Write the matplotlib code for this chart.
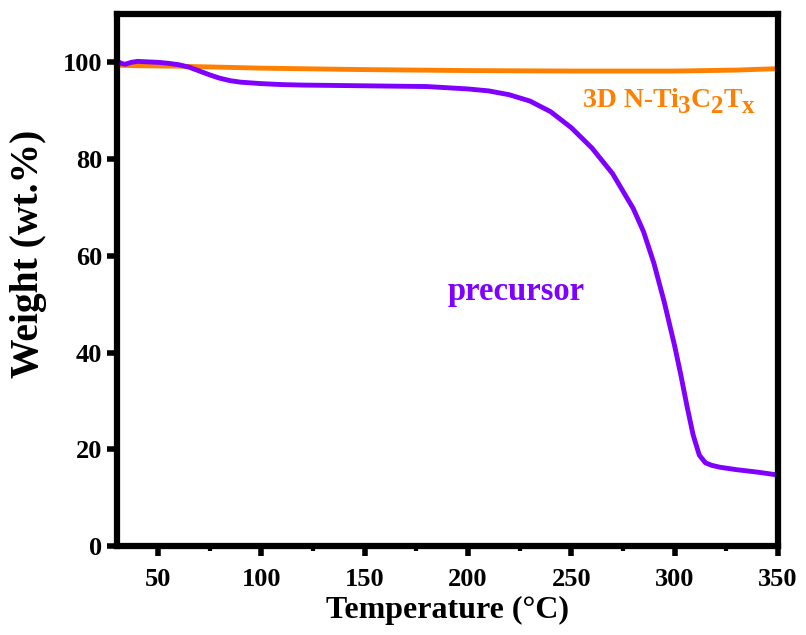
import matplotlib
matplotlib.use("Agg")
import matplotlib.pyplot as plt
from matplotlib.ticker import MultipleLocator

plt.rcParams['font.family'] = ['Liberation Serif', 'DejaVu Serif']
plt.rcParams['font.weight'] = 'bold'

# precursor TGA curve
precursor_temp = [30, 32, 34, 37, 40, 45, 50, 55, 60, 65, 70, 75, 80, 85, 90, 100, 110, 120,
                  140, 160, 180, 200, 210, 220, 230, 240, 250, 260, 270, 280, 285, 290, 295,
                  300, 303, 306, 309, 312, 315, 318, 322, 330, 340, 350]
precursor_weight = [100.3, 99.8, 99.6, 100.0, 100.2, 100.1, 100.0, 99.8, 99.5, 99.0, 98.2, 97.4,
                    96.7, 96.2, 95.9, 95.6, 95.4, 95.3, 95.2, 95.1, 95.0, 94.5, 94.1, 93.3,
                    92.0, 89.8, 86.5, 82.3, 77.0, 69.8, 65.0, 58.5, 50.5, 41.5, 35.5, 29.0,
                    23.0, 18.8, 17.2, 16.7, 16.3, 15.8, 15.3, 14.7]

# 3D N-Ti3C2Tx TGA curve
ntc_temp = [30, 40, 60, 80, 100, 150, 200, 250, 300, 330, 350]
ntc_weight = [99.4, 99.3, 99.2, 99.0, 98.8, 98.5, 98.3, 98.2, 98.2, 98.4, 98.7]

# label pieces: (text, is_subscript)
ntc_label = [('3D N-Ti', False), ('3', True), ('C', False), ('2', True), ('T', False), ('x', True)]

fig = plt.figure(figsize=(8.06, 6.35), dpi=100)
ax = fig.add_axes([0.145, 0.140, 0.820, 0.838])

ax.plot(ntc_temp, ntc_weight, color='#ff8000', lw=3.5)
ax.plot(precursor_temp, precursor_weight, color='#8000ff', lw=3.5)

ax.set_xlim(30, 350)
ax.set_ylim(0, 110)


def piecewise_label(ax, x, y, parts, color, size):
    # draw text piece by piece so the subscripts stay large, like the original
    renderer = fig.canvas.get_renderer()
    dx = 0.0
    for txt, sub in parts:
        fs = size * 0.9 if sub else size
        dy = -4 if sub else 0
        t = ax.annotate(txt, xy=(x, y), xycoords='data', xytext=(dx, dy),
                        textcoords='offset points', color=color, fontsize=fs,
                        fontweight='bold', va='baseline', ha='left')
        w = t.get_window_extent(renderer).width
        dx += w * 72.0 / fig.dpi


piecewise_label(ax, 255.5, 90.7, ntc_label, '#ff8000', 20)
ax.text(190, 50.9, 'precursor', color='#8000ff', fontsize=23.5, fontweight='bold')

ax.xaxis.set_major_locator(MultipleLocator(50))
ax.xaxis.set_minor_locator(MultipleLocator(25))
ax.yaxis.set_major_locator(MultipleLocator(20))

for s in ax.spines.values():
    s.set_linewidth(4.5)
ax.tick_params(which='major', direction='out', length=7, width=4, labelsize=19)
ax.tick_params(axis='x', which='major', pad=9)
ax.tick_params(which='minor', direction='out', length=3.5, width=3)
for lab in ax.get_xticklabels() + ax.get_yticklabels():
    lab.set_fontweight('bold')

ax.set_xlabel('Temperature (°C)', fontsize=23, fontweight='bold', labelpad=3)
ax.set_ylabel('Weight (wt.%)', fontsize=28.5, fontweight='bold')
ax.yaxis.set_label_coords(-0.105, 0.549)

fig.savefig('out.png', dpi=100)
